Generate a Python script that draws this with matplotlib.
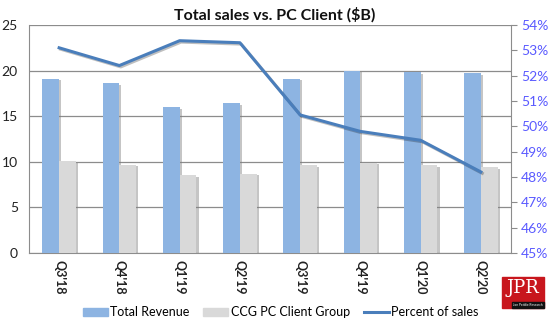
import numpy as np
import matplotlib
matplotlib.use('Agg')
import matplotlib.pyplot as plt
import matplotlib.patheffects as pe
from matplotlib.patches import Rectangle, Patch
from matplotlib.lines import Line2D
from matplotlib.ticker import FuncFormatter

# ── Data ──────────────────────────────────────────────────────────────────────
quarters = ["Q3'18", "Q4'18", "Q1'19", "Q2'19", "Q3'19", "Q4'19", "Q1'20", "Q2'20"]
total_revenue = [19.1, 18.6, 16.0, 16.4, 19.1, 20.0, 19.8, 19.7]
ccg_revenue = [10.1, 9.7, 8.5, 8.7, 9.65, 9.9, 9.65, 9.4]
pct_of_sales = [53.1, 52.4, 53.38, 53.3, 50.45, 49.8, 49.45, 48.2]

BLUE_BAR = '#8db4e2'
GRAY_BAR = '#d9d9d9'
LINE = '#4a7ebb'
RIGHT_TXT = '#5a5aff'

plt.rcParams['font.family'] = ['Lato', 'DejaVu Sans']

fig = plt.figure(figsize=(5.5, 3.29), dpi=100)
ax = fig.add_axes([29 / 550, 1 - 253 / 329, 482 / 550, 228 / 329])

x = np.arange(len(quarters))
w = 0.28
shadow = [pe.SimplePatchShadow(offset=(1.5, -1.2), shadow_rgbFace='#808080', alpha=0.45), pe.Normal()]
b1 = ax.bar(x - w / 2, total_revenue, width=w, color=BLUE_BAR, zorder=3)
b2 = ax.bar(x + w / 2, ccg_revenue, width=w, color=GRAY_BAR, zorder=3)
for p in list(b1) + list(b2):
    p.set_path_effects(shadow)

ax.set_xlim(-0.5, len(quarters) - 0.5)
ax.set_ylim(0, 25)
ax.set_yticks(range(0, 26, 5))
ax.yaxis.grid(True, color='#8c8c8c', lw=0.9, zorder=0)
ax.set_axisbelow(True)
ax.tick_params(axis='y', length=0, labelsize=10, colors='#222222', pad=8)
ax.set_xticks(x)
ax.set_xticklabels(quarters, rotation=-90, fontsize=9, fontweight='bold', color='#222222')
ax.tick_params(axis='x', length=0, pad=5)
for s in ['top', 'right']:
    ax.spines[s].set_visible(False)
for s in ['left', 'bottom']:
    ax.spines[s].set_color('#8c8c8c')

ax2 = ax.twinx()
ax2.plot(x, pct_of_sales, color=LINE, lw=2.2, zorder=4,
         path_effects=[pe.SimpleLineShadow(offset=(1, -1), alpha=0.25), pe.Normal()])
ax2.set_ylim(45, 54)
ax2.set_yticks(range(45, 55))
ax2.yaxis.set_major_formatter(FuncFormatter(lambda v, _: f'{v:.0f}%'))
ax2.tick_params(axis='y', direction='out', length=4, color='#8c8c8c', labelsize=10,
                labelcolor=RIGHT_TXT, pad=3)
for s in ['top', 'left', 'bottom']:
    ax2.spines[s].set_visible(False)
ax2.spines['right'].set_color('#8c8c8c')

fig.text(0.5, 1 - 15 / 329, 'Total sales vs. PC Client ($B)', ha='center', va='center',
         fontsize=11.5, fontweight='bold', color='#111111')

handles = [Patch(color=BLUE_BAR, label='Total Revenue'),
           Patch(color=GRAY_BAR, label='CCG PC Client Group'),
           Line2D([], [], color=LINE, lw=2.2, label='Percent of sales')]
fig.legend(handles=handles, loc='center', bbox_to_anchor=(0.51, 1 - 312 / 329),
           ncol=3, frameon=False, fontsize=9, handlelength=2.0, handleheight=0.6,
           handletextpad=0.2, columnspacing=1.1)

# JPR badge
fig.patches.append(Rectangle((502 / 550, 1 - 308 / 329), 42 / 550, 31 / 329,
                             transform=fig.transFigure, color='#c8161d', zorder=5))
fig.patches.append(Rectangle((512 / 550, 1 - 308 / 329), 32 / 550, 6 / 329,
                             transform=fig.transFigure, color='#111111', zorder=6))
fig.text(523 / 550, 1 - 288 / 329, 'JPR', ha='center', va='center', color='white',
         fontsize=13, family='DejaVu Serif', zorder=7)
fig.text(528 / 550, 1 - 305 / 329, 'Jon Peddie Research', ha='center', va='center',
         color='white', fontsize=2.3, zorder=7)

fig.savefig('out.png', dpi=100)
